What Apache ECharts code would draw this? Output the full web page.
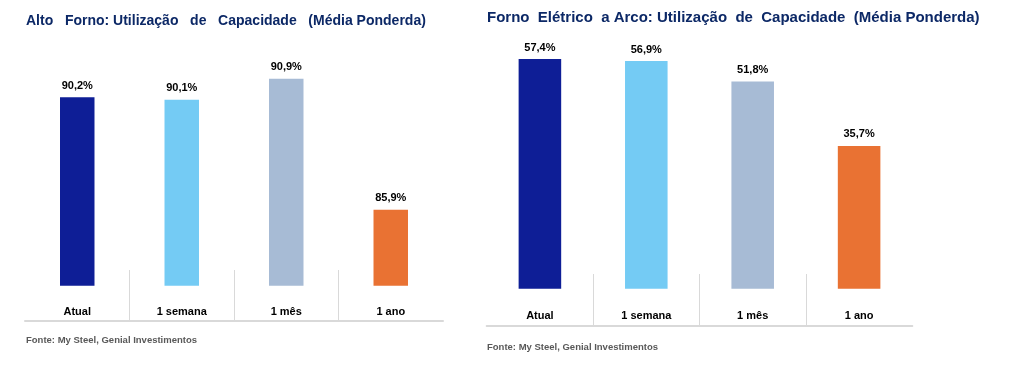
<!DOCTYPE html>
<html>
<head>
<meta charset="utf-8">
<script src="https://cdn.jsdelivr.net/npm/echarts@6/dist/echarts.min.js"></script>
<style>
html,body{margin:0;padding:0;background:#fff;}
#chart{width:1013px;height:366px;}
</style>
</head>
<body>
<div id="chart"></div>
<script>
const categories = ['Atual', '1 semana', '1 mês', '1 ano'];
const altoFornoValues = [90.2, 90.1, 90.9, 85.9];
const fornoEletricoValues = [57.4, 56.9, 51.8, 35.7];
const barColors = ['#0e1e96', '#74cbf4', '#a7bbd5', '#e97233'];
const titleLeft = 'Alto   Forno: Utilização   de   Capacidade   (Média Ponderda)';
const titleRight = 'Forno  Elétrico  a Arco: Utilização  de  Capacidade  (Média Ponderda)';
const sourceText = 'Fonte: My Steel, Genial Investimentos';
const boundaries = ['b0', 'b1', 'b2', 'b3', 'b4'];

const chart = echarts.init(document.getElementById('chart'), null, {renderer: 'canvas'});
const font = 'Liberation Sans, Arial, sans-serif';

function fmt(v) { return v.toFixed(1).replace('.', ',') + '%'; }

function catAxis(gridIndex, offset, labelMargin) {
  return {
    type: 'category', gridIndex: gridIndex, data: categories, offset: offset, position: 'bottom',
    axisLine: {show: true, onZero: false, lineStyle: {color: '#d9d9d9', width: 2}},
    axisTick: {show: false},
    axisLabel: {inside: true, margin: labelMargin, color: '#000', fontSize: 11, fontWeight: 'bold', fontFamily: font}
  };
}
function sepAxis(gridIndex, offset, len) {
  return {
    type: 'category', gridIndex: gridIndex, data: boundaries, boundaryGap: false, offset: offset, position: 'bottom',
    axisLine: {show: false, onZero: false},
    axisLabel: {show: false},
    axisTick: {show: true, inside: true, length: len, interval: function (i) { return i > 0 && i < boundaries.length - 1; },
      lineStyle: {color: '#d9d9d9', width: 1}}
  };
}
function barSeries(axisIdx, values, width) {
  return {
    type: 'bar', xAxisIndex: axisIdx, yAxisIndex: axisIdx, barWidth: width,
    data: values.map((v, i) => ({value: v, itemStyle: {color: barColors[i]}})),
    label: {show: true, position: 'top', distance: 6, formatter: p => fmt(p.value),
      color: '#000', fontSize: 11, fontWeight: 'bold', fontFamily: font},
    silent: true, animation: false
  };
}

chart.setOption({
  animation: false,
  title: [
    {text: titleLeft, left: 26, top: 14, padding: 0,
      textStyle: {color: '#0c2866', fontSize: 14, fontWeight: 'bold', fontFamily: font}},
    {text: titleRight, left: 487, top: 10, padding: 0,
      textStyle: {color: '#0c2866', fontSize: 15, fontWeight: 'bold', fontFamily: font}},
    {text: sourceText, left: 26, top: 335, padding: 0,
      textStyle: {color: '#595959', fontSize: 9.5, fontWeight: 'bold', fontFamily: font}},
    {text: sourceText, left: 487, top: 342.5, padding: 0,
      textStyle: {color: '#595959', fontSize: 9.5, fontWeight: 'bold', fontFamily: font}}
  ],
  grid: [
    {left: 25, width: 418, top: 50, bottom: 80.3},
    {left: 486.7, width: 425.6, top: 48.7, bottom: 77.3}
  ],
  xAxis: [
    catAxis(0, 35.3, 4),
    catAxis(1, 37, 4.7),
    sepAxis(0, 35.3, 51),
    sepAxis(1, 37, 51.7)
  ],
  yAxis: [
    {type: 'value', gridIndex: 0, min: 83, max: 92, show: false},
    {type: 'value', gridIndex: 1, min: 0, max: 60, show: false}
  ],
  series: [
    barSeries(0, altoFornoValues, '33%'),
    barSeries(1, fornoEletricoValues, '40%')
  ]
});
</script>
</body>
</html>
